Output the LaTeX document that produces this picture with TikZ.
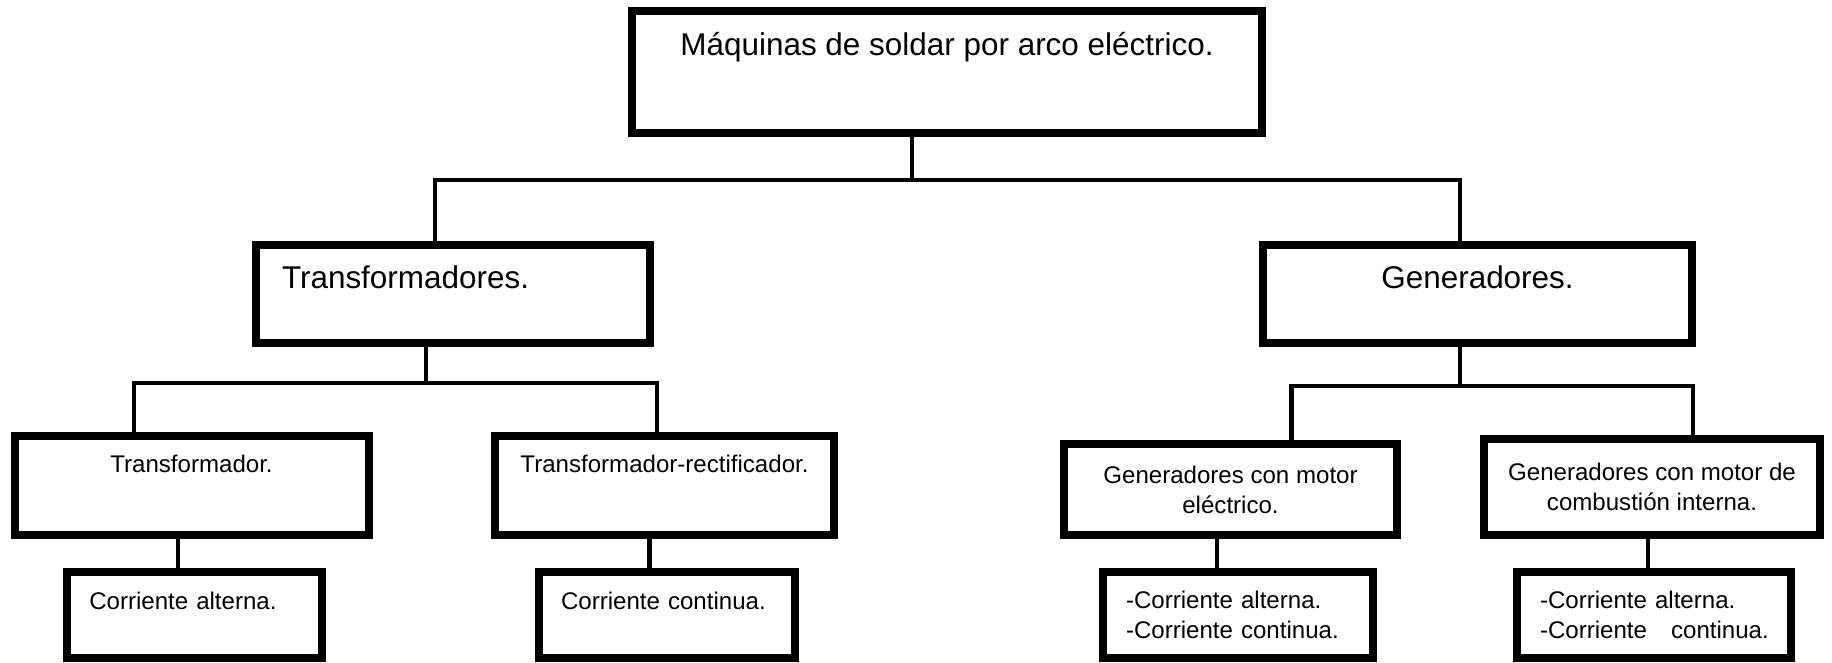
\documentclass[tikz,border=0pt]{standalone}
\usepackage{fontspec}
\setmainfont{Liberation Sans}
\begin{document}
\begin{tikzpicture}[
  box/.style={draw,line width=.16cm,inner sep=0pt,align=center},
  wire/.style={line width=.09cm},
  big/.style={font=\fontsize{17.9}{21}\selectfont},
  small/.style={font=\fontsize{13.7}{17}\selectfont}]
\useasboundingbox (0,0) rectangle (36.64,-13.24);
\node[box,big,minimum width=12.6cm,minimum height=2.44cm,text height=.46cm,text depth=1.14cm] (maq) at (18.94,-1.44) {Máquinas de soldar por arco eléctrico.};
\node[box,big,minimum width=7.88cm,minimum height=1.96cm,text width=6.84cm,align=left,text height=.46cm,text depth=.67cm] (trafos) at (9.06,-5.88) {Transformadores.};
\node[box,big,minimum width=8.58cm,minimum height=1.96cm,text height=.46cm,text depth=.67cm] (gens) at (29.55,-5.88) {Generadores.};
\node[box,small,minimum width=7.08cm,minimum height=1.98cm,text height=.36cm,text depth=.9cm] (tr1) at (3.83,-9.71) {Transformador.};
\node[box,small,minimum width=6.78cm,minimum height=1.98cm,text height=.36cm,text depth=.9cm] (tr2) at (13.29,-9.71) {Transformador-rectificador.};
\node[box,small,minimum width=6.66cm,minimum height=1.82cm] (ge1) at (24.61,-9.79) {Generadores con motor\\eléctrico.};
\node[box,small,minimum width=6.72cm,minimum height=1.92cm] (ge2) at (33.04,-9.74) {Generadores con motor de\\combustión interna.};
\node[box,small,minimum width=5.11cm,minimum height=1.72cm,text width=4.21cm,align=left,text height=.36cm,text depth=.6cm] (ca1) at (3.89,-12.3) {Corriente alterna.};
\node[box,small,minimum width=5.12cm,minimum height=1.72cm,text width=4.22cm,align=left,text height=.36cm,text depth=.6cm] (cc1) at (13.33,-12.3) {Corriente continua.};
\node[box,small,minimum width=5.4cm,minimum height=1.72cm,text width=4.48cm,align=left] (cd1) at (24.76,-12.3) {-Corriente alterna.\\-Corriente continua.};
\node[box,small,minimum width=5.48cm,minimum height=1.72cm,text width=4.56cm,align=left] (cd2) at (33.08,-12.3) {-Corriente alterna.\\\mbox{-Corriente\ \ \ continua.}};
% top level
\coordinate (j1) at (18.24,-3.6);
\coordinate (busL) at (8.7,-3.6);
\coordinate (busR) at (29.2,-3.6);
\draw[wire] (maq.south -| j1) -- (j1);
\draw[wire] (trafos.north -| busL) -- (busL) -- (busR) -- (gens.north -| busR);
% transformadores
\coordinate (j2) at (8.52,-7.66);
\coordinate (b2L) at (2.68,-7.66);
\coordinate (b2R) at (13.14,-7.66);
\draw[wire] (trafos.south -| j2) -- (j2);
\draw[wire] (tr1.north -| b2L) -- (b2L) -- (b2R) -- (tr2.north -| b2R);
% generadores
\coordinate (j3) at (29.2,-7.72);
\coordinate (b3L) at (25.83,-7.72);
\coordinate (b3R) at (33.86,-7.72);
\draw[wire] (gens.south -| j3) -- (j3);
\draw[wire] (ge1.north -| b3L) -- (b3L) -- (b3R) -- (ge2.north -| b3R);
% corriente
\draw[wire] ([xshift=-.27cm]tr1.south) -- ([xshift=-.27cm]tr1.south |- ca1.north);
\draw[wire] ([xshift=-.3cm]tr2.south) -- ([xshift=-.3cm]tr2.south |- cc1.north);
\draw[wire] ([xshift=-.27cm]ge1.south) -- ([xshift=-.27cm]ge1.south |- cd1.north);
\draw[wire] ([xshift=-.08cm]ge2.south) -- ([xshift=-.08cm]ge2.south |- cd2.north);
\end{tikzpicture}
\end{document}
